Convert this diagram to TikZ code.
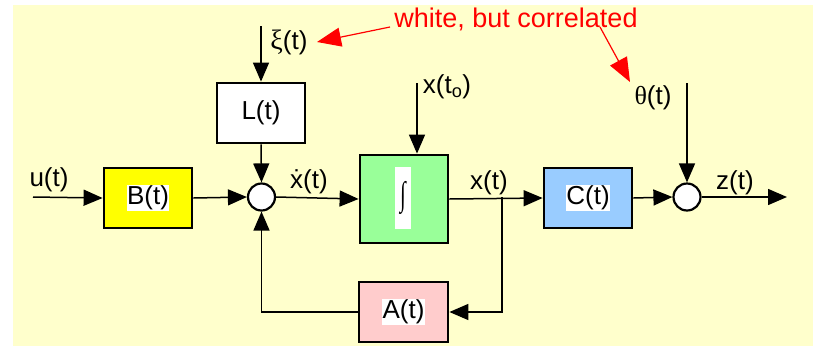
\documentclass[tikz,border=0pt]{standalone}
\usepackage{fontspec}
\setmainfont{Liberation Sans}
\newfontfamily\grk{Liberation Serif}
\usetikzlibrary{arrows.meta}
\definecolor{bg}{HTML}{FFFFCC}
\definecolor{boxyellow}{HTML}{FFFF00}
\definecolor{boxgreen}{HTML}{99FF99}
\definecolor{boxblue}{HTML}{99CCFF}
\definecolor{boxpink}{HTML}{FFCCCC}
\definecolor{notered}{HTML}{FF0000}
\begin{document}
\begin{tikzpicture}[x=1pt,y=-1pt,
  font=\fontsize{26}{30}\selectfont,
  blk/.style={draw,line width=2.8pt,inner sep=0pt,minimum width=88pt,minimum height=60pt},
  sumc/.style={circle,draw,fill=white,line width=2.2pt,inner sep=0pt,minimum size=27pt},
  lbl/.style={fill=white,inner sep=0.5pt},
  txt/.style={inner sep=0pt},
  arr/.style={line width=1.5pt,-{Triangle[length=19pt,width=16pt]}},
  redarr/.style={notered,line width=1.2pt,-{Triangle[length=24pt,width=19pt]}}]
\useasboundingbox (0,0) rectangle (813,346);
\fill[bg] (13,5) rectangle (813,346);

% blocks
\node[blk,fill=boxyellow] (B) at (148,198) {};
\node[blk,fill=white] (L) at (261,113) {};
\node[blk,fill=boxgreen,minimum height=88pt] (G) at (404,199) {};
\node[blk,fill=boxblue] (C) at (588,198) {};
\node[blk,fill=boxpink,minimum width=89pt] (A) at (403.5,312) {};
\node[lbl] (Bt) at (B) {B(t)};
\node[lbl] (Lt) at (L) {L(t)};
\node[lbl] (Ct) at (C) {C(t)};
\node[lbl] (At) at (A) {A(t)};
\node[fill=white,inner sep=0pt,minimum width=16pt,minimum height=62pt] (integ) at (403,198)
  {\scalebox{0.8}[1.3]{\grk ∫}};

% summing junctions
\node[sumc] (S1) at (261.5,197) {};
\node[sumc] (S2) at (687,197) {};

% coordinates
\coordinate (uin) at (33,197);
\coordinate (zout) at (787,197);
\coordinate (br) at (502,197);
\coordinate (xi) at (261,26);
\coordinate (x0) at (417,83);
\coordinate (th) at (687,83);

% connectors
\draw[arr] (uin) -- (B.west);
\draw[arr] (B.east) -- (S1.west);
\draw[arr] (S1.east) -- (G.west);
\draw[arr] (G.east) -- (C.west);
\draw[arr] (C.east) -- (S2.west);
\draw[arr] (S2.east) -- (zout);
\draw[arr] (xi) -- (L.north);
\draw[arr] (L.south) -- (S1.north);
\draw[arr] (x0) -- (x0 |- G.north);
\draw[arr] (th) -- (S2.north);
\draw[arr] (br) |- (A.east);
\draw[arr] (A.west) -| (S1.south);

% labels
\node[txt] (lu) at (49,180) {u(t)};
\node[txt] (lxd) at (309,182) {\.{x}(t)};
\node[txt] (lx) at (489,183) {x(t)};
\node[txt] (lz) at (735,183) {z(t)};
\node[txt] (lxi) at (289,42) {{\grk\fontsize{28}{30}\selectfont ξ}(t)};
\node[txt] (lx0) at (447,87) {x(t\textsubscript{o})};
\node[txt] (lth) at (653,98) {{\grk θ}(t)};
\node[txt,text=notered,font=\fontsize{27}{30}\selectfont] (note) at (516,19) {white, but correlated};

% red annotation arrows
\coordinate (n1) at (390,27);
\coordinate (n2) at (600,27);
\coordinate (t1) at (317,42);
\coordinate (t2) at (630,82);
\draw[redarr] (n1) -- (t1);
\draw[redarr] (n2) -- (t2);
\end{tikzpicture}
\end{document}
